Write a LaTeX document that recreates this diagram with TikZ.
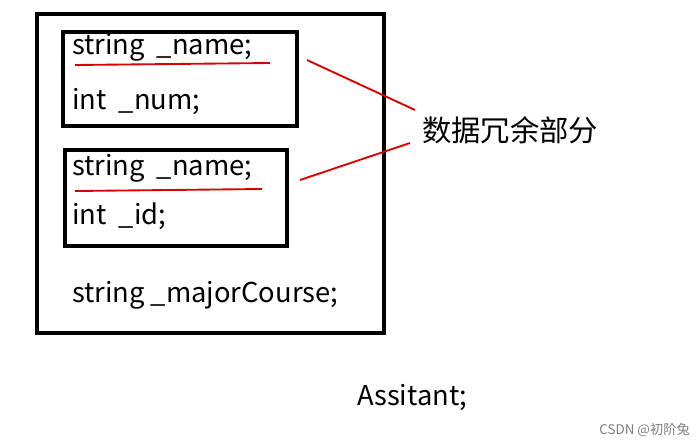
\documentclass[tikz,border=0pt]{standalone}
\usepackage{fontspec}
\setmainfont{Noto Sans CJK SC}
\usetikzlibrary{positioning}
\begin{document}
\begin{tikzpicture}[x=0.75pt, y=-0.75pt,
	nosep/.style={inner sep=0pt, outer sep=0pt},
	txt/.style={nosep, anchor=west, font=\fontsize{20.5}{24}\selectfont},
	box/.style={draw=black, line width=2.8pt},
	redline/.style={draw=red!85!black, line width=1.4pt}
]
\useasboundingbox[fill=white] (0,0) rectangle (697,444);

% Boxes
\draw[box] (37,14) rectangle (384,333);
\draw[box] (63,32) rectangle (297,126);
\draw[box] (65,150) rectangle (287,246);

% Member texts
\node[txt] (n1) at (72,47) {string\ \ \_name;};
\node[txt] (num) at (72,101) {int\ \ \_num;};
\node[txt] (n2) at (72,168) {string\ \ \_name;};
\node[txt] (id) at (72,216) {int\ \ \_id;};
\node[txt] (mc) at (72,295) {string \_majorCourse;};

% Underlines
\draw[redline] (75,65) -- (270,63);
\draw[redline] (75,191) -- (262,189);

% Label and pointers
\node[txt, font=\fontsize{22}{26}\selectfont] (lbl) at (422,130) {数据冗余部分};
\coordinate (p1) at (307,60);
\coordinate (p2) at (300,180);
\draw[redline] (p1) -- (415,110);
\draw[redline] (p2) -- (410,143);

\node[txt] (as) at (357,397) {Assitant;};
\node[txt, anchor=east, text=gray, font=\fontsize{10}{12}\selectfont] (wm) at (690,430) {CSDN @初阶兔};
\end{tikzpicture}
\end{document}
